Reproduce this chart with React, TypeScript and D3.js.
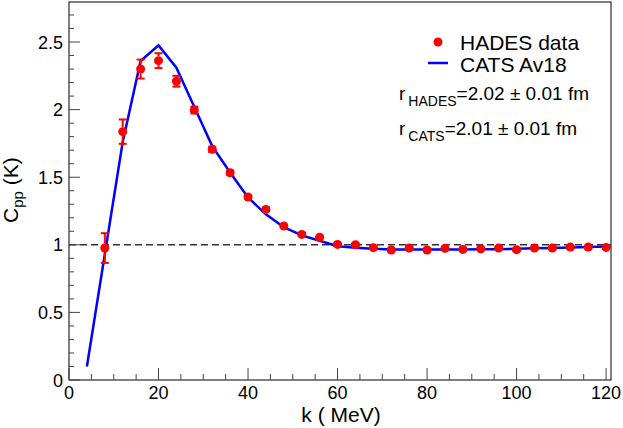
import React, { useEffect, useRef } from 'react';
import * as d3 from 'd3';

// HADES measured correlation (k in MeV)
const dataK = [8, 12, 16, 20, 24, 28, 32, 36, 40, 44, 48, 52, 56, 60, 64, 68, 72, 76, 80, 84, 88, 92, 96, 100, 104, 108, 112, 116, 120];
const dataC = [0.976, 1.837, 2.30, 2.362, 2.21, 1.997, 1.706, 1.533, 1.354, 1.262, 1.139, 1.077, 1.055, 1.003, 1.0, 0.979, 0.962, 0.976, 0.962, 0.974, 0.966, 0.971, 0.976, 0.964, 0.976, 0.976, 0.983, 0.983, 0.981];
const dataErr = [0.11, 0.09, 0.07, 0.055, 0.04, 0.025, 0.02, 0.015, 0.012, 0.012, 0.01, 0.01, 0.01, 0.01, 0.01, 0.01, 0.01, 0.01, 0.01, 0.01, 0.01, 0.01, 0.01, 0.01, 0.01, 0.01, 0.01, 0.01, 0.01];

// CATS Av18 prediction
const modelK = [4, 8, 12, 16, 20, 24, 28, 32, 36, 40, 44, 48, 52, 56, 60, 64, 68, 72, 76, 80, 84, 88, 92, 96, 100, 104, 108, 112, 116, 120];
const modelC = [0.10, 0.93, 1.76, 2.36, 2.475, 2.31, 2.02, 1.73, 1.535, 1.35, 1.225, 1.13, 1.07, 1.03, 0.99, 0.979, 0.971, 0.966, 0.965, 0.965, 0.965, 0.966, 0.967, 0.968, 0.97, 0.974, 0.977, 0.981, 0.984, 0.988];

const xMajor = [0, 20, 40, 60, 80, 100, 120];
const yMajor = [0, 0.5, 1, 1.5, 2, 2.5];
const yTickLabels = ['0', '0.5', '1', '1.5', '2', '2.5'];

const WIDTH = 623;
const HEIGHT = 428;
const FONT = '"Liberation Sans", Arial, Helvetica, sans-serif';

export default function App() {
    const svgRef = useRef<SVGSVGElement>(null);

    useEffect(() => {
        if (!svgRef.current) return;
        const svg = d3.select(svgRef.current);
        svg.selectAll('*').remove();

        const left = 69, right = 611, top = 2, bottom = 380;
        const x = d3.scaleLinear().domain([0, 121.1]).range([left, right]);
        const y = d3.scaleLinear().domain([0, 2.796]).range([bottom, top]);

        svg.append('rect')
            .attr('width', WIDTH).attr('height', HEIGHT).attr('fill', 'white');

        // reference line at 1
        svg.append('line')
            .attr('x1', left).attr('x2', right)
            .attr('y1', y(1)).attr('y2', y(1))
            .attr('stroke', '#333').attr('stroke-width', 1.5)
            .attr('stroke-dasharray', '7,4');

        // model curve
        const line = d3.line<number>()
            .x((d, i) => x(modelK[i]))
            .y(d => y(d));
        svg.append('path')
            .attr('d', line(modelC) as string)
            .attr('fill', 'none')
            .attr('stroke', '#0000ff')
            .attr('stroke-width', 2.5);

        // data points with error bars
        const r = 4.5;
        const pts = svg.append('g');
        dataC.forEach((c, i) => {
            const px = x(dataK[i]);
            const py = y(c);
            const hi = y(c + dataErr[i]);
            const lo = y(c - dataErr[i]);
            if (py - hi > r) {
                pts.append('line').attr('x1', px).attr('x2', px).attr('y1', hi).attr('y2', py - r)
                    .attr('stroke', '#ff0000').attr('stroke-width', 2);
                pts.append('line').attr('x1', px).attr('x2', px).attr('y1', py + r).attr('y2', lo)
                    .attr('stroke', '#ff0000').attr('stroke-width', 2);
            }
            [hi, lo].forEach(cy => {
                pts.append('line').attr('x1', px - 4).attr('x2', px + 4).attr('y1', cy).attr('y2', cy)
                    .attr('stroke', '#ff0000').attr('stroke-width', 2);
            });
            pts.append('circle').attr('cx', px).attr('cy', py).attr('r', r).attr('fill', '#ff0000');
        });

        // frame
        svg.append('rect')
            .attr('x', left).attr('y', top)
            .attr('width', right - left).attr('height', bottom - top)
            .attr('fill', 'none').attr('stroke', '#000').attr('stroke-width', 1);

        // x ticks
        const xt = svg.append('g');
        d3.range(0, 121, 5).forEach(v => {
            const major = v % 20 === 0;
            xt.append('line')
                .attr('x1', x(v)).attr('x2', x(v))
                .attr('y1', bottom).attr('y2', bottom - (major ? 12 : 6))
                .attr('stroke', '#444').attr('stroke-width', 1);
        });
        xMajor.forEach(v => {
            xt.append('text')
                .attr('x', x(v)).attr('y', 399)
                .attr('text-anchor', 'middle')
                .attr('font-family', FONT).attr('font-size', 18)
                .text(String(v));
        });

        // y ticks
        const yt = svg.append('g');
        d3.range(0, 28).forEach(n => {
            const v = n / 10;
            const major = n % 5 === 0;
            yt.append('line')
                .attr('x1', left).attr('x2', left + (major ? 11 : 5))
                .attr('y1', y(v)).attr('y2', y(v))
                .attr('stroke', '#444').attr('stroke-width', 1);
        });
        yMajor.forEach((v, i) => {
            yt.append('text')
                .attr('x', 63).attr('y', y(v) + 6.5)
                .attr('text-anchor', 'end')
                .attr('font-family', FONT).attr('font-size', 18)
                .text(yTickLabels[i]);
        });

        // axis titles
        svg.append('text')
            .attr('x', left + (right - left) / 2 + 1).attr('y', 422)
            .attr('text-anchor', 'middle')
            .attr('font-family', FONT).attr('font-size', 21)
            .text('k ( MeV)');

        const yTitle = svg.append('text')
            .attr('transform', 'translate(18,223) rotate(-90)')
            .attr('font-family', FONT).attr('font-size', 21);
        yTitle.append('tspan').text('C');
        yTitle.append('tspan').attr('font-size', 15).attr('dy', 5).text('pp');
        yTitle.append('tspan').attr('dy', -5).text(' (K)');

        // legend
        svg.append('circle').attr('cx', 438).attr('cy', 42).attr('r', 4.5).attr('fill', '#ff0000');
        svg.append('line').attr('x1', 428).attr('x2', 448).attr('y1', 63).attr('y2', 63)
            .attr('stroke', '#0000ff').attr('stroke-width', 2.5);
        svg.append('text').attr('x', 460).attr('y', 50)
            .attr('font-family', FONT).attr('font-size', 21).text('HADES data');
        svg.append('text').attr('x', 460).attr('y', 72)
            .attr('font-family', FONT).attr('font-size', 21).text('CATS Av18');

        const radii = [
            { sub: 'HADES', val: '=2.02 \u00b1 0.01 fm', base: 100 },
            { sub: 'CATS', val: '=2.01 \u00b1 0.01 fm', base: 135 },
        ];
        radii.forEach(rr => {
            const t = svg.append('text').attr('x', 399).attr('y', rr.base)
                .attr('font-family', FONT).attr('font-size', 19);
            t.append('tspan').text('r');
            t.append('tspan').attr('dx', 3).attr('dy', 6).attr('font-size', 14).text(rr.sub);
            t.append('tspan').attr('dy', -6).text(rr.val);
        });
    }, []);

    return (
        <svg
            ref={svgRef}
            width={WIDTH}
            height={HEIGHT}
            style={{ position: 'absolute', left: 0, top: 0 }}
        ></svg>
    );
}
